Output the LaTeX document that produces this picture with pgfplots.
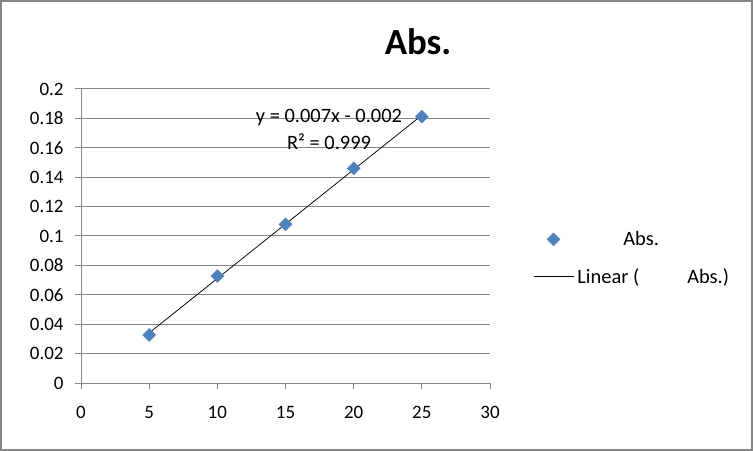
\documentclass[border=0pt]{standalone}
\usepackage{pgfplots}
\pgfplotsset{compat=1.18}
\usepackage{fontspec}
\setmainfont{Carlito}
\definecolor{gridgray}{RGB}{134,134,134}
\definecolor{markblue}{RGB}{79,129,189}
\pgfplotsset{
  legmark/.style={legend image code/.code={\draw[mark repeat=2,mark phase=2,##1] plot coordinates {(0bp,0bp)(20bp,0bp)(40bp,0bp)};}},
  legline/.style={legend image code/.code={\draw[##1] (0bp,0bp) -- (40bp,0bp);}}
}
\begin{document}
\begin{tikzpicture}
\useasboundingbox (0,0) rectangle (753bp,451bp);
\draw[gridgray, line width=2bp] (1bp,1bp) rectangle (752bp,450bp);
\node[font=\fontsize{37}{40}\selectfont\bfseries] at (418bp,409bp) {Abs.};
\begin{axis}[
  at={(81bp,68bp)}, anchor=south west, scale only axis,
  width=409bp, height=294bp,
  xmin=0, xmax=30, ymin=0, ymax=0.2,
  axis lines*=left,
  axis line style={gridgray, line width=1bp},
  xtick={0,5,10,15,20,25,30},
  xticklabels={0,5,10,15,20,25,30},
  ytick={0,0.02,0.04,0.06,0.08,0.1,0.12,0.14,0.16,0.18,0.2},
  yticklabels={0,0.02,0.04,0.06,0.08,0.1,0.12,0.14,0.16,0.18,0.2},
  tick align=outside, major tick length=6bp,
  tick style={gridgray, line width=1bp},
  ymajorgrids, grid style={gridgray, line width=1bp},
  ticklabel style={font=\fontsize{19}{22}\selectfont},
  xticklabel style={yshift=-14bp},
  yticklabel style={xshift=-8bp},
  legend style={at={(1.105,0.425)}, anchor=west, draw=none, fill=none,
    inner sep=0pt, font=\fontsize{20.5}{23}\selectfont, row sep=14bp,
    nodes={inner sep=3.5bp}},
  legend cell align=left,
  clip=false,
]
\addplot[only marks, mark=square*, mark size=4.6bp,
  mark options={rotate=45, fill=markblue, draw=markblue}, legmark]
  coordinates {(5,0.0327) (10,0.0728) (15,0.1079) (20,0.1460) (25,0.1812)};
\addlegendentry{\hspace{46bp}Abs.}
\addplot[black, line width=0.75bp, mark=none, legline]
  coordinates {(5,0.03408) (25,0.18216)};
\addlegendentry{Linear (\hspace{48bp}Abs.)}
\end{axis}
\node[font=\fontsize{20.5}{23}\selectfont] at (329bp,333bp) {y = 0.007x - 0.002};
\node[font=\fontsize{20.5}{23}\selectfont] at (329bp,309bp) {R² = 0.999};
\end{tikzpicture}
\end{document}
